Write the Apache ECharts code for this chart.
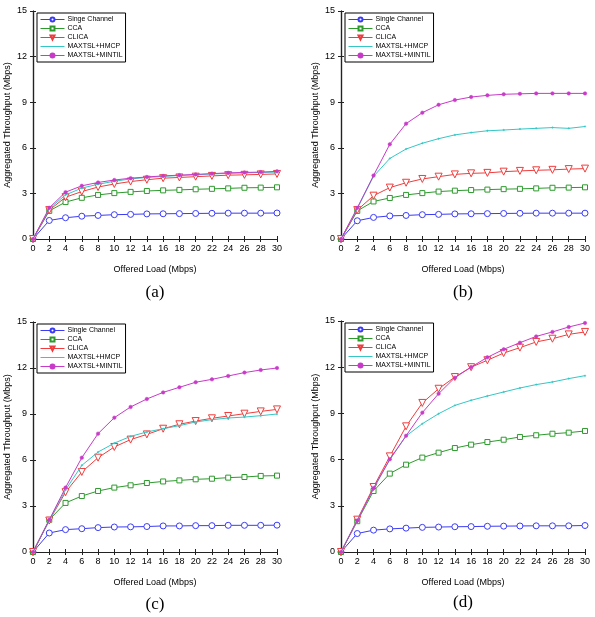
<!DOCTYPE html>
<html lang="en">
<head>
    <meta charset="UTF-8">
    <title>Aggregated Throughput</title>
    <script type="text/javascript" src="https://cdn.jsdelivr.net/npm/echarts@6/dist/echarts.min.js"></script>
    <style>
        body { margin: 0; background: #fff; }
        #container { width: 595px; height: 617px; }
    </style>
</head>
<body>
<div id="container"></div>
<script>
    var load = [0, 2, 4, 6, 8, 10, 12, 14, 16, 18, 20, 22, 24, 26, 28, 30];
    var xTicks = { min: 0, max: 30, interval: 2 };
    var yTicks = { min: 0, max: 15, interval: 3 };
    var panelLabels = ["(a)", "(b)", "(c)", "(d)"];
    var namesA = ["Singe Channel", "CCA", "CLICA", "MAXTSL+HMCP", "MAXTSL+MINTIL"];
    var names = ["Single Channel", "CCA", "CLICA", "MAXTSL+HMCP", "MAXTSL+MINTIL"];

    // (a)
    var singleA = [0, 1.22, 1.40, 1.50, 1.55, 1.60, 1.62, 1.65, 1.66, 1.67, 1.68, 1.69, 1.70, 1.70, 1.70, 1.71];
    var ccaA = [0, 1.85, 2.43, 2.71, 2.90, 3.02, 3.10, 3.16, 3.20, 3.23, 3.27, 3.30, 3.33, 3.37, 3.38, 3.40];
    var clicaA = [0, 1.90, 2.75, 3.12, 3.42, 3.62, 3.78, 3.90, 4.00, 4.05, 4.10, 4.15, 4.20, 4.22, 4.25, 4.28];
    var hmcpA = [0, 2.00, 2.90, 3.35, 3.60, 3.80, 3.95, 4.05, 4.12, 4.18, 4.22, 4.28, 4.32, 4.35, 4.38, 4.40];
    var mintilA = [0, 2.05, 3.08, 3.50, 3.72, 3.88, 4.00, 4.08, 4.15, 4.20, 4.25, 4.30, 4.35, 4.38, 4.40, 4.45];

    // (b)
    var singleB = [0, 1.20, 1.42, 1.52, 1.55, 1.60, 1.62, 1.65, 1.66, 1.67, 1.68, 1.69, 1.70, 1.70, 1.70, 1.70];
    var ccaB = [0, 1.85, 2.47, 2.70, 2.90, 3.02, 3.12, 3.18, 3.22, 3.25, 3.28, 3.30, 3.33, 3.37, 3.38, 3.40];
    var clicaB = [0, 1.90, 2.85, 3.38, 3.70, 3.95, 4.10, 4.25, 4.32, 4.35, 4.43, 4.48, 4.52, 4.55, 4.60, 4.63];
    var hmcpB = [0, 2.00, 4.12, 5.30, 5.92, 6.30, 6.60, 6.85, 7.00, 7.12, 7.17, 7.23, 7.28, 7.33, 7.28, 7.40];
    var mintilB = [0, 2.05, 4.18, 6.23, 7.59, 8.31, 8.83, 9.14, 9.34, 9.45, 9.52, 9.55, 9.58, 9.58, 9.58, 9.58];

    // (c)
    var singleC = [0, 1.24, 1.46, 1.52, 1.59, 1.63, 1.64, 1.66, 1.70, 1.70, 1.72, 1.72, 1.74, 1.74, 1.74, 1.75];
    var ccaC = [0, 2.10, 3.20, 3.65, 3.98, 4.20, 4.35, 4.50, 4.60, 4.67, 4.74, 4.78, 4.85, 4.89, 4.96, 4.98];
    var clicaC = [0, 2.05, 3.90, 5.22, 6.15, 6.85, 7.33, 7.67, 8.04, 8.33, 8.54, 8.72, 8.87, 9.02, 9.17, 9.30];
    var hmcpC = [0, 2.05, 4.05, 5.65, 6.52, 7.10, 7.54, 7.83, 8.04, 8.24, 8.48, 8.63, 8.74, 8.80, 8.89, 9.00];
    var mintilC = [0, 2.10, 4.20, 6.15, 7.72, 8.76, 9.46, 9.98, 10.41, 10.74, 11.07, 11.26, 11.48, 11.70, 11.87, 12.00];

    // (d)
    var singleD = [0, 1.20, 1.42, 1.50, 1.55, 1.60, 1.62, 1.64, 1.65, 1.67, 1.68, 1.69, 1.70, 1.70, 1.70, 1.72];
    var ccaD = [0, 2.00, 3.96, 5.09, 5.67, 6.13, 6.45, 6.75, 6.97, 7.14, 7.29, 7.47, 7.58, 7.68, 7.75, 7.86];
    var clicaD = [0, 2.10, 4.22, 6.21, 8.16, 9.68, 10.60, 11.36, 12.00, 12.45, 12.92, 13.27, 13.64, 13.85, 14.13, 14.29];
    var hmcpD = [0, 2.05, 4.10, 6.00, 7.53, 8.33, 8.98, 9.52, 9.85, 10.13, 10.39, 10.65, 10.87, 11.04, 11.26, 11.45];
    var mintilD = [0, 2.05, 4.15, 6.02, 7.55, 9.05, 10.28, 11.32, 12.01, 12.64, 13.16, 13.59, 14.00, 14.29, 14.61, 14.87];

    var panels = [
        { names: namesA, data: [singleA, ccaA, clicaA, hmcpA, mintilA], left: 33, top: 11, height: 228, legendLeft: 37, legendTop: 13, labelX: 150, labelY: 279 },
        { names: names, data: [singleB, ccaB, clicaB, hmcpB, mintilB], left: 341, top: 11, height: 228, legendLeft: 345, legendTop: 13, labelX: 458, labelY: 279 },
        { names: names, data: [singleC, ccaC, clicaC, hmcpC, mintilC], left: 33, top: 322, height: 230, legendLeft: 37, legendTop: 324, labelX: 150, labelY: 591 },
        { names: names, data: [singleD, ccaD, clicaD, hmcpD, mintilD], left: 341, top: 321, height: 231, legendLeft: 345, legendTop: 323, labelX: 458, labelY: 589 }
    ];

    var colors = ["#3b3bf5", "#2e9a2e", "#f03c3c", "#35c6c6", "#c83ac8"];
    var symbols = ["circle", "rect", "triangle", "circle", "circle"];
    var symbolSizes = [6, 5, 7, 1.5, 3.5];
    var symbolRotate = [0, 0, 180, 0, 0];
    var hollow = [true, true, true, false, false];

    function pairs(ys) {
        var out = [];
        for (var i = 0; i < load.length; i++) {
            out.push([load[i], ys[i]]);
        }
        return out;
    }

    // legend entries: small marker in the middle of a thin line, HMCP shows the line only
    function legendItems(list) {
        var out = [];
        for (var i = 0; i < list.length; i++) {
            var item = { name: list[i], lineStyle: { width: 1 } };
            if (i == 3) {
                item.itemStyle = { color: "rgba(0,0,0,0)", borderWidth: 0 };
            }
            out.push(item);
        }
        return out;
    }

    var font = "Liberation Sans";
    var axisColor = "#222";
    var grids = [], xAxes = [], yAxes = [], series = [], legends = [], titles = [];

    for (var p = 0; p < panels.length; p++) {
        var pn = panels[p];
        grids.push({ left: pn.left, top: pn.top, width: 244, height: pn.height });

        xAxes.push({
            gridIndex: p, type: "value", min: xTicks.min, max: xTicks.max, interval: xTicks.interval,
            name: "Offered Load (Mbps)", nameLocation: "middle", nameGap: 26,
            nameTextStyle: { fontFamily: font, fontSize: 9, color: "#000" },
            axisLine: { lineStyle: { color: axisColor, width: 1.2 } },
            axisTick: { inside: true, length: 3, lineStyle: { color: axisColor } },
            axisLabel: { fontFamily: font, fontSize: 9, color: "#000", margin: 5 },
            splitLine: { show: false }
        });
        xAxes.push({
            gridIndex: p, type: "value", position: "top", min: xTicks.min, max: xTicks.max, interval: xTicks.interval,
            axisLine: { lineStyle: { color: axisColor, width: 1.2 } },
            axisTick: { inside: true, length: 3, lineStyle: { color: axisColor } },
            axisLabel: { show: false },
            splitLine: { show: false }
        });
        yAxes.push({
            gridIndex: p, type: "value", min: yTicks.min, max: yTicks.max, interval: yTicks.interval,
            name: "Aggregated Throughput (Mbps)", nameLocation: "middle", nameGap: 21,
            nameTextStyle: { fontFamily: font, fontSize: 9, color: "#000" },
            axisLine: { lineStyle: { color: axisColor, width: 1.2 } },
            axisTick: { inside: true, length: 3, lineStyle: { color: axisColor } },
            axisLabel: { fontFamily: font, fontSize: 9, color: "#000", margin: 6 },
            splitLine: { show: false }
        });
        yAxes.push({
            gridIndex: p, type: "value", position: "right", min: yTicks.min, max: yTicks.max, interval: yTicks.interval,
            axisLine: { lineStyle: { color: axisColor, width: 1.2 } },
            axisTick: { inside: true, length: 3, lineStyle: { color: axisColor } },
            axisLabel: { show: false },
            splitLine: { show: false }
        });

        for (var s = 0; s < 5; s++) {
            series.push({
                name: pn.names[s],
                type: "line",
                xAxisIndex: p * 2,
                yAxisIndex: p * 2,
                data: pairs(pn.data[s]),
                symbol: symbols[s],
                symbolSize: symbolSizes[s],
                symbolRotate: symbolRotate[s],
                showAllSymbol: true,
                lineStyle: { color: colors[s], width: 1 },
                itemStyle: hollow[s]
                    ? { color: "#fff", borderColor: colors[s], borderWidth: 1 }
                    : { color: colors[s], borderColor: colors[s], borderWidth: 0.5 },
                z: 2 + s,
                animation: false
            });
        }

        legends.push({
            data: legendItems(pn.names),
            orient: "vertical",
            left: pn.legendLeft,
            top: pn.legendTop,
            itemWidth: 24,
            itemHeight: 5,
            itemGap: 0,
            padding: [2, 3, 2, 3],
            borderColor: "#000",
            borderWidth: 1,
            backgroundColor: "#fff",
            textStyle: { fontFamily: font, fontSize: 7, lineHeight: 9, color: "#000", padding: [0, 0, 0, -2] },
            selectedMode: false
        });

        titles.push({
            text: panelLabels[p],
            left: pn.labelX,
            top: pn.labelY,
            textAlign: "center",
            textStyle: { fontFamily: "Liberation Serif", fontSize: 17, fontWeight: "normal", color: "#000" }
        });
    }

    var myChart = echarts.init(document.getElementById("container"));
    myChart.setOption({
        animation: false,
        title: titles,
        grid: grids,
        xAxis: xAxes,
        yAxis: yAxes,
        legend: legends,
        series: series
    });
</script>
</body>
</html>
